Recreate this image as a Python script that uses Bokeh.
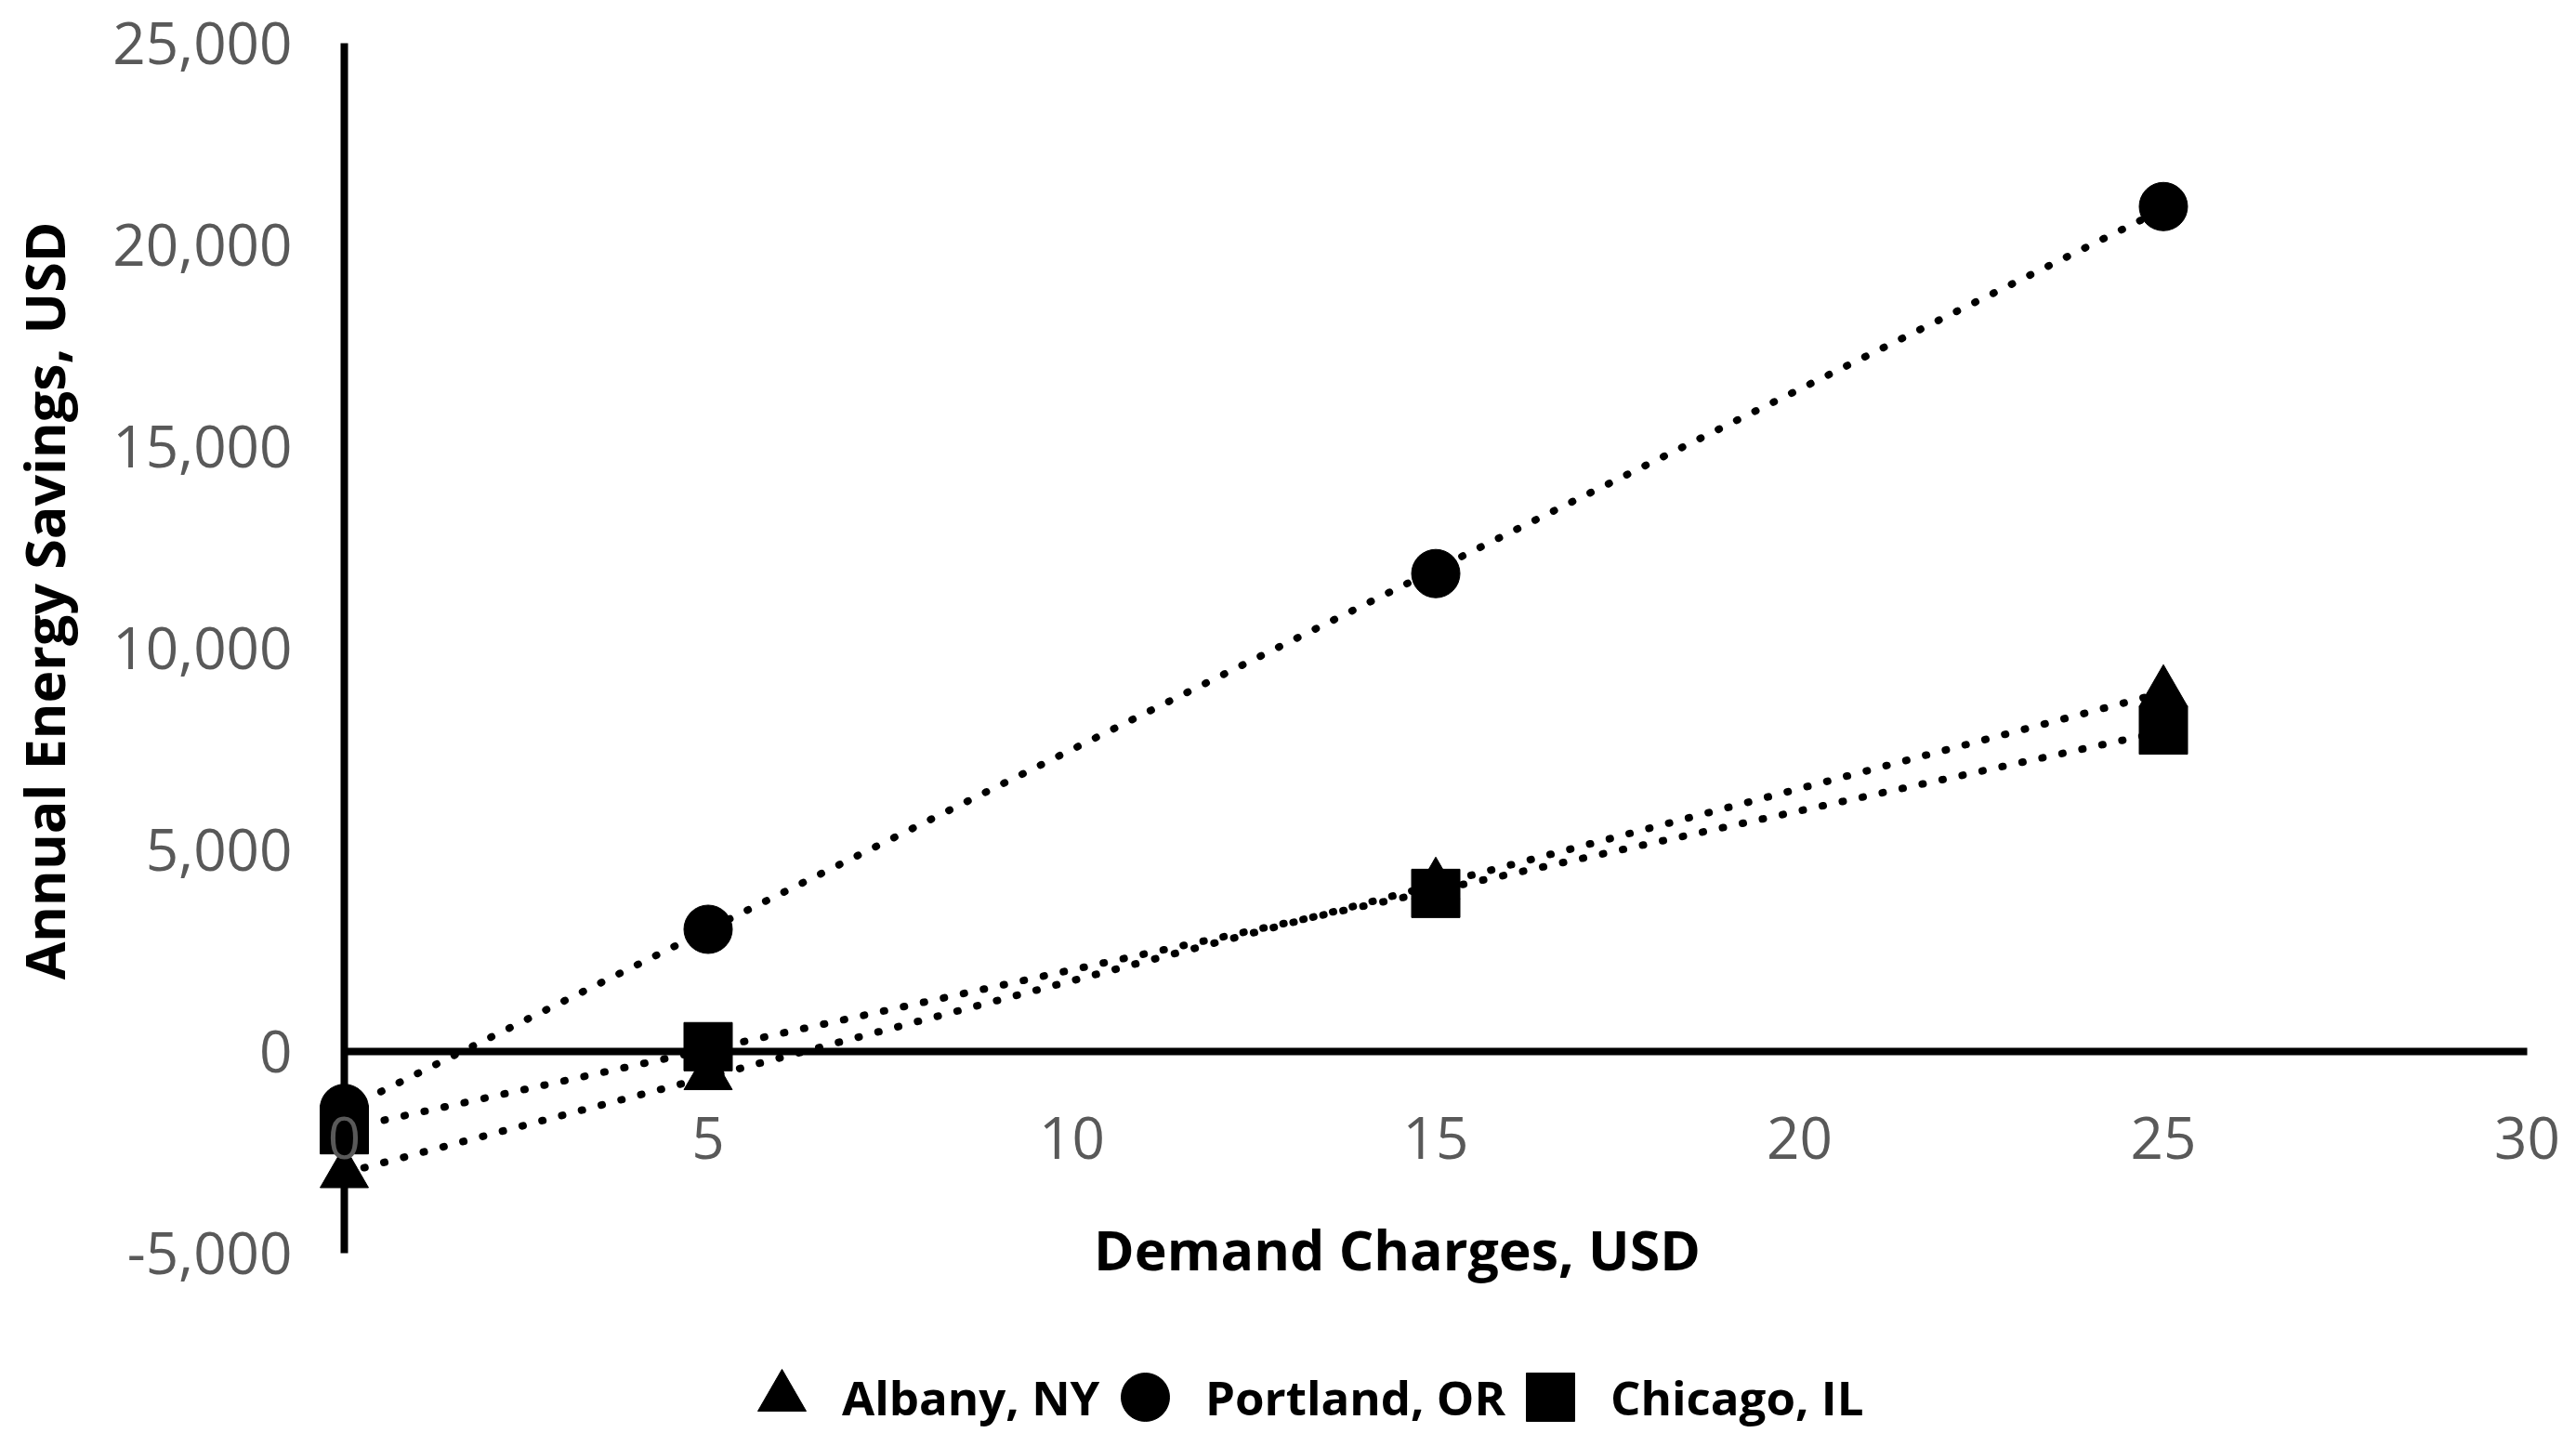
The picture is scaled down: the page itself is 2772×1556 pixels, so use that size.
import math
import numpy as np
from bokeh.plotting import figure
from bokeh.models import (Range1d, FixedTicker, NumeralTickFormatter, Legend,
                          LegendItem, Label)
from bokeh.embed import file_html
from bokeh.resources import INLINE

# ---- data ----
demand_charge = [0, 5, 15, 25]
albany_ny = [-3030, -600, 4130, 8900]
portland_or = [-1410, 3030, 11850, 20950]
chicago_il = [-1940, 120, 3920, 7970]
series_names = ["Albany, NY", "Portland, OR", "Chicago, IL"]
x_ticks = [0, 5, 10, 15, 20, 25, 30]
y_ticks = [-5000, 0, 5000, 10000, 15000, 20000, 25000]
x_title = "Demand Charges, USD"
y_title = "Annual Energy Savings, USD"

FONT = "Open Sans"

# ---- layout (pixels inside the figure) ----
W, H = 2756, 1540
X0_PX, X30_PX = 370, 2719          # screen x of x=0 and x=30
YTOP_PX, YBOT_PX = 46, 1348        # screen y (from top) of y=25000 and y=-5000
xs_per_px = (max(x_ticks) - min(x_ticks)) / (X30_PX - X0_PX)
ys_per_px = (max(y_ticks) - min(y_ticks)) / (YBOT_PX - YTOP_PX)
x_range = Range1d(min(x_ticks) - X0_PX * xs_per_px, max(x_ticks) + (W - X30_PX) * xs_per_px)
y_range = Range1d(min(y_ticks) - (H - YBOT_PX) * ys_per_px, max(y_ticks) + YTOP_PX * ys_per_px)

p = figure(width=W, height=H, output_backend="svg", toolbar_location=None,
           x_range=x_range, y_range=y_range,
           min_border=0, min_border_left=0, min_border_right=0,
           min_border_top=0, min_border_bottom=0,
           background_fill_color="white", border_fill_color="white")
p.outline_line_color = None
p.grid.visible = False

# axis lines (spanning the tick extents only)
p.segment(x0=[0], y0=[min(y_ticks)], x1=[0], y1=[max(y_ticks)],
          line_color="black", line_width=8)
p.segment(x0=[min(x_ticks)], y0=[0], x1=[max(x_ticks)], y1=[0],
          line_color="black", line_width=8)

markers = ["triangle", "circle", "square"]
values = [albany_ny, portland_or, chicago_il]
for ys in values:
    k, b = np.polyfit(demand_charge, ys, 1)  # linear trendline like the source chart
    xs = [min(demand_charge), max(demand_charge)]
    p.line(xs, [k * x + b for x in xs], line_color="black", line_width=8,
           line_dash="1 21", line_cap="round")
renderers = []
for ys, mk in zip(values, markers):
    r = p.scatter(demand_charge, ys, marker=mk, size=52, fill_color="black",
                  line_color="black")
    renderers.append(r)

def style_axis(ax, ticks, standoff):
    ax.fixed_location = 0
    ax.ticker = FixedTicker(ticks=ticks)
    ax.axis_line_color = None
    ax.major_tick_out = 0
    ax.major_tick_in = 0
    ax.minor_tick_out = 0
    ax.minor_tick_in = 0
    ax.major_label_standoff = standoff
    ax.major_label_text_font = FONT
    ax.major_label_text_font_size = "62px"
    ax.major_label_text_color = "#595959"
    ax.axis_label = None

ya = p.yaxis[0]
style_axis(ya, y_ticks, 56)
ya.formatter = NumeralTickFormatter(format="0,0")
xa = p.xaxis[0]
style_axis(xa, x_ticks, 70)

# axis titles
p.add_layout(Label(x=46, y=H - 646, x_units="screen", y_units="screen",
                   text=y_title, angle=math.pi / 2, text_align="center",
                   text_baseline="middle", text_font=FONT, text_font_size="59px",
                   text_font_style="bold", text_color="black"))
p.add_layout(Label(x=1503, y=H - 1343, x_units="screen", y_units="screen",
                   text=x_title, text_align="center", text_baseline="middle",
                   text_font=FONT, text_font_size="59px", text_font_style="bold",
                   text_color="black"))

# legend entries along the bottom (legend markers are drawn at 0.4 x glyph box)
legend_left = [776, 1167, 1603]
for r, name, lx in zip(renderers, series_names, legend_left):
    lg = Legend(items=[LegendItem(label=name, renderers=[r])],
                location=(lx, -28), orientation="horizontal",
                glyph_width=130, glyph_height=130, label_standoff=0,
                padding=0, margin=0, spacing=0,
                border_line_color=None, background_fill_alpha=0,
                label_text_font=FONT, label_text_font_size="51px",
                label_text_font_style="bold", label_text_color="black")
    p.add_layout(lg, "center")

open("out.html", "w").write(file_html(p, INLINE))
